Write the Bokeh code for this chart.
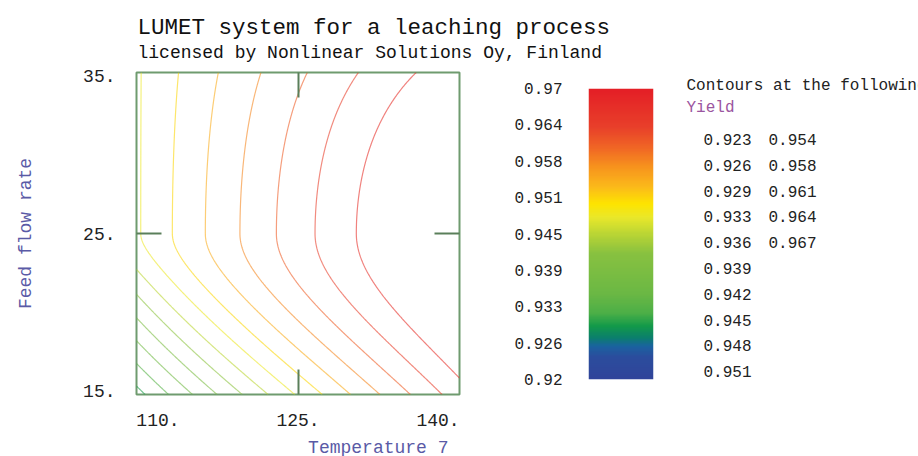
import numpy as np
from bokeh.plotting import figure
from bokeh.layouts import row, column
from bokeh.models import (Range1d, LinearAxis, FixedTicker, LinearColorMapper)
from bokeh.core.properties import value
from bokeh.embed import file_html
from bokeh.resources import INLINE

# ---------------- data ----------------
title_text = "LUMET system for a leaching process"
subtitle_text = "licensed by Nonlinear Solutions Oy, Finland"
x_label = "Temperature 7"
y_label = "Feed flow rate"
response_name = "Yield"
list_heading = "Contours at the following values:"

temp_range = (107.7, 142.3)
feed_range = (14.75, 35.25)
temp_ticks = [110, 125, 140]
temp_tick_labels = ["110.", "125.", "140."]
feed_ticks = [15, 25, 35]
feed_tick_labels = ["15.", "25.", "35."]
temp_mark = [125]
feed_mark = [25]

contour_levels = [0.923125, 0.92625, 0.929375, 0.9325, 0.935625, 0.93875, 0.941875,
                  0.945, 0.948125, 0.95125, 0.954375, 0.9575, 0.960625, 0.96375, 0.966875]
contour_level_labels = ["0.923", "0.926", "0.929", "0.933", "0.936", "0.939", "0.942",
                        "0.945", "0.948", "0.951", "0.954", "0.958", "0.961", "0.964", "0.967"]

bar_low, bar_high = 0.92, 0.97
bar_ticks = [0.92, 0.92625, 0.9325, 0.93875, 0.945, 0.95125, 0.9575, 0.96375, 0.97]
bar_tick_labels = ["0.92", "0.926", "0.933", "0.939", "0.945", "0.951", "0.958", "0.964", "0.97"]

# colour scale stops (value, colour)
scale_values = [0.9200, 0.9238, 0.9256, 0.9270, 0.9290, 0.9313, 0.9347, 0.9416, 0.9451,
                0.9479, 0.9502, 0.9531, 0.9565, 0.9600, 0.9634, 0.9700]
scale_colors = ["#30449a", "#2b4d9d", "#1a62a0", "#0b7e6e", "#12994a", "#4caf47", "#6bb844",
                "#88c140", "#bcd634", "#eae82a", "#fde400", "#fbba1a", "#f7941d", "#f06525",
                "#e8402a", "#e41f26"]

# points read on the contour lines: (temperature, feed rate, index of contour level 1..15)
top_feed = 35.25
top_temp = [107.9, 112.4, 116.5, 121.3, 126.0, 131.5, 137.4]
top_level = [9, 10, 11, 12, 13, 14, 15]
ridge_feed = 25.0          # the curved contours have their left-most point here
ridge_temp = [107.8, 111.1, 114.6, 118.5, 122.4, 127.1, 131.7]
ridge_level = [9, 10, 11, 12, 13, 14, 15]
bottom_feed = 14.75
bottom_temp = [108.8, 110.9, 113.2, 116.1, 119.0, 121.8, 124.6, 127.8, 131.1, 134.1, 137.2, 140.0]
bottom_level = [3, 4, 5, 6, 7, 8, 9, 10, 11, 12, 13, 14]
left_temp = 107.7
left_feed = [22.96, 21.37, 19.78, 18.38, 16.78, 15.19]
left_level = [8, 7, 6, 5, 4, 3]
right_temp = 142.3
right_feed = [15.6]
right_level = [15]

# ---------------- helpers ----------------
def hex_to_rgb(h):
    h = h.lstrip("#")
    return [int(h[i:i + 2], 16) for i in (0, 2, 4)]

rgb = np.array([hex_to_rgb(c) for c in scale_colors], dtype=float)

def colour_at(v):
    r = np.interp(v, scale_values, rgb[:, 0])
    g = np.interp(v, scale_values, rgb[:, 1])
    b = np.interp(v, scale_values, rgb[:, 2])
    return "#%02x%02x%02x" % (int(round(r)), int(round(g)), int(round(b)))

palette = [colour_at(v) for v in np.linspace(bar_low, bar_high, 256)]
line_colors = [colour_at(v) for v in contour_levels]

# response surface: ridge along feed = 25, gentle fall above it, steeper fall below it
def basis(T, F):
    t = (np.asarray(T, float) - 125.0) / 15.0
    f = (np.asarray(F, float) - ridge_feed) / 10.0
    up = np.clip(f, 0, None) / 1.025
    dn = np.clip(-f, 0, None) / 1.025
    c = np.clip(0.15 + 0.5 * (t + 1.15), 0.1, None)      # roundness of the lower fall
    h = (np.sqrt(c ** 2 + dn ** 2) - c) / (np.sqrt(c ** 2 + 1) - c)
    one = np.ones_like(t)
    return [one, t, t ** 2, up ** 2, t * up ** 2, h, t * h]

T_pts = np.array(top_temp + ridge_temp + bottom_temp
                 + [left_temp] * len(left_feed) + [right_temp] * len(right_feed))
F_pts = np.array([top_feed] * len(top_temp) + [ridge_feed] * len(ridge_temp)
                 + [bottom_feed] * len(bottom_temp) + left_feed + right_feed)
L_pts = np.array([contour_levels[k - 1] for k in
                  top_level + ridge_level + bottom_level + left_level + right_level])

A = np.column_stack(basis(T_pts, F_pts))
coef, *_ = np.linalg.lstsq(A, L_pts, rcond=None)

Tg = np.linspace(temp_range[0], temp_range[1], 281)
Fg = np.linspace(feed_range[0], feed_range[1], 281)
TT, FF = np.meshgrid(Tg, Fg)
Z = sum(c * b for c, b in zip(coef, basis(TT, FF)))

# ---------------- styles ----------------
MONO = "Liberation Mono"
FRAME = "#6f9b6f"
TICK = "#5a7f5a"
AXIS_TXT = "#5a5aa6"
DARK = "#222222"

def canvas(w, h):
    c = figure(width=w, height=h, x_range=Range1d(0, w), y_range=Range1d(h, 0),
               x_axis_type=None, y_axis_type=None, toolbar_location=None,
               output_backend="svg", min_border=0)
    c.outline_line_color = None
    c.frame_align = False
    return c

def put_text(c, x, y, txt, size, color, align="left", baseline="alphabetic"):
    c.text(x=[x], y=[y], text=[txt], text_font=value(MONO),
           text_font_size=value(size), text_color=value(color),
           text_align=value(align), text_baseline=value(baseline))

# ---------------- title canvas ----------------
pT = canvas(918, 62)
put_text(pT, 137, 27, title_text, "22.5px", "#111111")
put_text(pT, 137, 52, subtitle_text, "18px", "#111111")

# ---------------- contour figure ----------------
pA = figure(width=472, height=374, x_range=Range1d(*temp_range), y_range=Range1d(*feed_range),
            x_axis_type=None, y_axis_type=None, toolbar_location=None, output_backend="svg",
            min_border_left=136, min_border_right=13, min_border_top=10, min_border_bottom=42)
pA.frame_align = False
pA.outline_line_color = FRAME
pA.outline_line_width = 2
pA.background_fill_color = "white"
pA.border_fill_color = "white"

pA.contour(x=Tg, y=Fg, z=Z, levels=contour_levels, line_color=line_colors,
           line_alpha=0.6, line_width=1.2)

def make_axis(ticks, labels, marks, show_labels, standoff=0):
    ax = LinearAxis(ticker=FixedTicker(ticks=ticks, minor_ticks=marks))
    ax.axis_line_color = None
    ax.major_tick_line_color = None
    ax.major_tick_in = 0
    ax.major_tick_out = 0
    ax.minor_tick_in = 25
    ax.minor_tick_out = 0
    ax.minor_tick_line_color = TICK
    ax.minor_tick_line_width = 2
    if show_labels:
        ax.major_label_overrides = dict(zip(ticks, labels))
        ax.major_label_text_font = MONO
        ax.major_label_text_font_size = "18px"
        ax.major_label_text_color = DARK
        ax.major_label_standoff = standoff
    else:
        ax.major_label_text_font_size = "0px"
        ax.major_label_standoff = 0
    return ax

ax_b = make_axis(temp_ticks, temp_tick_labels, temp_mark, True, 19)
ax_l = make_axis(feed_ticks, feed_tick_labels, feed_mark, True, 21)
ax_l.axis_label = y_label
ax_l.axis_label_text_font = MONO
ax_l.axis_label_text_font_size = "18px"
ax_l.axis_label_text_font_style = "normal"
ax_l.axis_label_text_color = AXIS_TXT
ax_l.axis_label_standoff = 44
pA.add_layout(ax_b, "below")
pA.add_layout(ax_l, "left")
pA.add_layout(make_axis([], [], temp_mark, False), "above")
pA.add_layout(make_axis([], [], feed_mark, False), "right")

# ---------------- x label canvas ----------------
pX = canvas(472, 20)
put_text(pX, 448, 11, x_label, "18px", AXIS_TXT, align="right")

# ---------------- colour bar ----------------
pB = figure(width=204, height=394, x_range=Range1d(0, 1), y_range=Range1d(bar_low, bar_high),
            x_axis_type=None, y_axis_type=None, toolbar_location=None, output_backend="svg",
            min_border_left=116, min_border_right=23, min_border_top=26, min_border_bottom=77)
pB.frame_align = False
pB.outline_line_color = None
pB.background_fill_color = "white"
pB.border_fill_color = "white"

mapper = LinearColorMapper(palette=palette, low=bar_low, high=bar_high)
grad = np.linspace(bar_low, bar_high, 400).reshape(-1, 1)
pB.image(image=[grad], x=0, y=bar_low, dw=1, dh=bar_high - bar_low, color_mapper=mapper)

bax = LinearAxis(ticker=FixedTicker(ticks=bar_ticks))
bax.major_label_overrides = dict(zip(bar_ticks, bar_tick_labels))
bax.axis_line_color = None
bax.major_tick_line_color = None
bax.major_tick_in = 0
bax.major_tick_out = 0
bax.minor_tick_line_color = None
bax.major_label_standoff = 26
bax.major_label_text_font = MONO
bax.major_label_text_font_size = "16px"
bax.major_label_text_color = DARK
pB.add_layout(bax, "left")

# ---------------- contour value list ----------------
pC = canvas(242, 394)
put_text(pC, 10, 23, list_heading, "16px", DARK)
put_text(pC, 10, 45, response_name, "16px", "#9b55a0", baseline="middle")
n = len(contour_level_labels)
pC.text(x=[27 + 65 * (i // 10) for i in range(n)],
        y=[77 + 25.8 * (i % 10) for i in range(n)],
        text=contour_level_labels, text_font=value(MONO), text_font_size=value("16px"),
        text_color=value(DARK), text_align=value("left"), text_baseline=value("middle"))

layout = column(pT, row(column(pA, pX), pB, pC))
open("out.html", "w").write(file_html(layout, INLINE))
